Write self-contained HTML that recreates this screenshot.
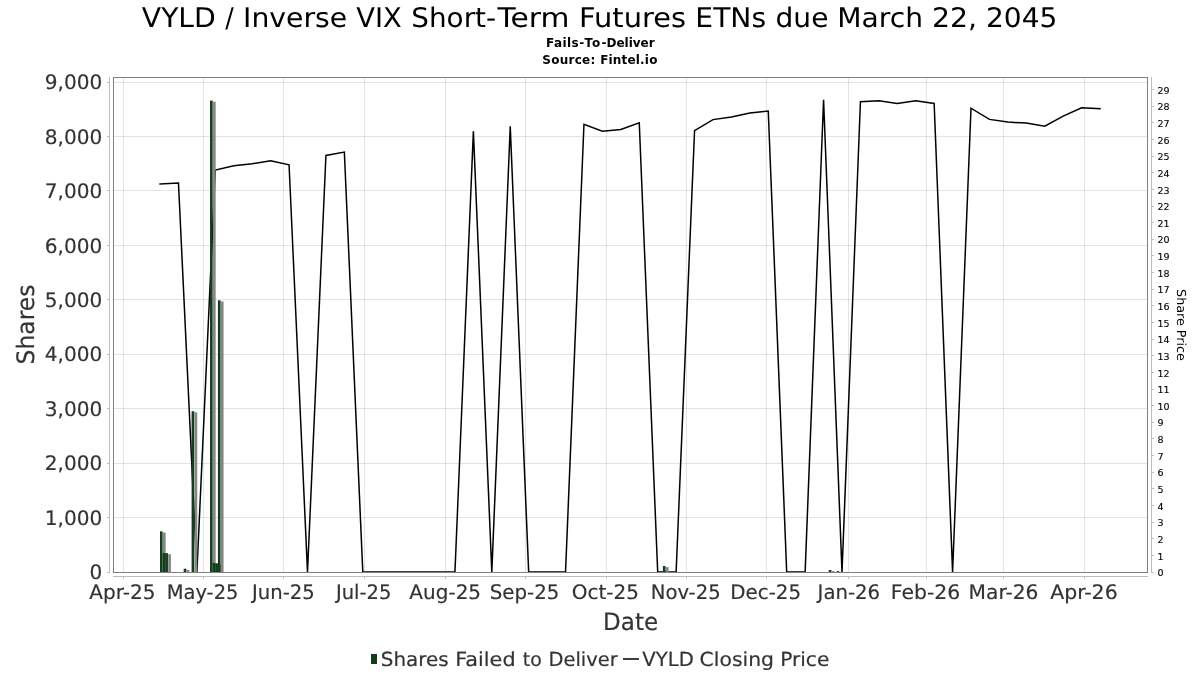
<!DOCTYPE html>
<html lang="en"><head><meta charset="utf-8">
<title>VYLD / Inverse VIX Short-Term Futures ETNs due March 22, 2045 - Fails-To-Deliver</title>
<style>
html,body{margin:0;padding:0;background:#fff;}
body{width:1200px;height:675px;overflow:hidden;}
svg{display:block;}
text{font-family:'DejaVu Sans','Liberation Sans',sans-serif;text-rendering:geometricPrecision;}
text.h{text-rendering:auto;stroke:#000;stroke-width:0.12px;}
text.hb{text-rendering:auto;}
text[fill="#333333"]{stroke:#333333;stroke-width:0.18px;}
</style></head><body>
<svg width="1200" height="675" viewBox="0 0 1200 675">
<rect x="0" y="0" width="1200" height="675" fill="#ffffff"/>
<defs><clipPath id="plot"><rect x="113" y="77" width="1034.5" height="495"/></clipPath>
</defs>
<g shape-rendering="crispEdges">
<rect x="123" y="78" width="1" height="494" fill="#000000" fill-opacity="0.105"/>
<rect x="203" y="78" width="1" height="494" fill="#000000" fill-opacity="0.105"/>
<rect x="283" y="78" width="1" height="494" fill="#000000" fill-opacity="0.105"/>
<rect x="364" y="78" width="1" height="494" fill="#000000" fill-opacity="0.105"/>
<rect x="445" y="78" width="1" height="494" fill="#000000" fill-opacity="0.105"/>
<rect x="525" y="78" width="1" height="494" fill="#000000" fill-opacity="0.105"/>
<rect x="606" y="78" width="1" height="494" fill="#000000" fill-opacity="0.105"/>
<rect x="686" y="78" width="1" height="494" fill="#000000" fill-opacity="0.105"/>
<rect x="766" y="78" width="1" height="494" fill="#000000" fill-opacity="0.105"/>
<rect x="848" y="78" width="1" height="494" fill="#000000" fill-opacity="0.105"/>
<rect x="926" y="78" width="1" height="494" fill="#000000" fill-opacity="0.105"/>
<rect x="1003" y="78" width="1" height="494" fill="#000000" fill-opacity="0.105"/>
<rect x="1084" y="78" width="1" height="494" fill="#000000" fill-opacity="0.105"/>
<rect x="114" y="517" width="1033" height="1" fill="#000000" fill-opacity="0.105"/>
<rect x="114" y="463" width="1033" height="1" fill="#000000" fill-opacity="0.105"/>
<rect x="114" y="408" width="1033" height="1" fill="#000000" fill-opacity="0.105"/>
<rect x="114" y="354" width="1033" height="1" fill="#000000" fill-opacity="0.105"/>
<rect x="114" y="299" width="1033" height="1" fill="#000000" fill-opacity="0.105"/>
<rect x="114" y="245" width="1033" height="1" fill="#000000" fill-opacity="0.105"/>
<rect x="114" y="190" width="1033" height="1" fill="#000000" fill-opacity="0.105"/>
<rect x="114" y="136" width="1033" height="1" fill="#000000" fill-opacity="0.105"/>
<rect x="114" y="82" width="1033" height="1" fill="#000000" fill-opacity="0.105"/>
</g>
<g clip-path="url(#plot)">
<path d="M160.05 183.90 L178.48 183.10 L196.91 572.00 L215.34 170.00 L233.77 165.70 L252.21 163.70 L270.64 160.80 L289.07 164.80 L307.50 572.00 L325.93 155.40 L344.36 152.10 L362.79 572.00 L381.22 572.00 L399.65 572.00 L418.08 572.00 L436.52 572.00 L454.95 572.00 L473.38 131.20 L491.81 572.00 L510.24 126.40 L528.67 572.00 L547.10 572.00 L565.53 572.00 L583.96 124.30 L602.39 131.20 L620.83 129.40 L639.26 122.80 L657.69 572.00 L676.12 572.00 L694.55 130.60 L712.98 119.60 L731.41 116.90 L749.84 113.10 L768.27 111.10 L786.70 572.00 L805.13 572.00 L823.57 99.70 L842.00 572.00 L860.43 101.70 L878.86 100.70 L897.29 103.50 L915.72 100.70 L934.15 103.50 L952.58 572.00 L971.01 108.20 L989.45 119.40 L1007.88 122.10 L1026.31 123.10 L1044.74 126.20 L1063.17 116.10 L1081.60 107.80 L1100.03 108.80" fill="none" stroke="#000" stroke-width="1.5" stroke-linejoin="miter" stroke-miterlimit="10" stroke-linecap="square"/>
<rect x="163.00" y="532.50" width="2.633" height="39.50" fill="#868686"/>
<rect x="165.63" y="554.20" width="2.633" height="17.80" fill="#868686"/>
<rect x="168.27" y="554.20" width="2.633" height="17.80" fill="#868686"/>
<rect x="186.70" y="569.80" width="2.633" height="2.20" fill="#868686"/>
<rect x="194.60" y="412.30" width="2.633" height="159.70" fill="#868686"/>
<rect x="213.03" y="101.70" width="2.633" height="470.30" fill="#868686"/>
<rect x="215.66" y="564.00" width="2.633" height="8.00" fill="#868686"/>
<rect x="218.29" y="564.40" width="2.633" height="7.60" fill="#868686"/>
<rect x="220.93" y="301.40" width="2.633" height="270.60" fill="#868686"/>
<rect x="665.90" y="567.10" width="2.633" height="4.90" fill="#868686"/>
<rect x="831.78" y="571.10" width="2.633" height="0.90" fill="#868686"/>
<rect x="839.68" y="572.20" width="2.633" height="-0.20" fill="#868686"/>
<rect x="160.00" y="531.40" width="2.633" height="40.60" fill="#133d1c"/>
<rect x="162.63" y="553.10" width="2.633" height="18.90" fill="#133d1c"/>
<rect x="165.27" y="553.10" width="2.633" height="18.90" fill="#133d1c"/>
<rect x="183.70" y="568.70" width="2.633" height="3.30" fill="#133d1c"/>
<rect x="191.60" y="411.20" width="2.633" height="160.80" fill="#133d1c"/>
<rect x="210.03" y="100.60" width="2.633" height="471.40" fill="#133d1c"/>
<rect x="212.66" y="562.90" width="2.633" height="9.10" fill="#133d1c"/>
<rect x="215.29" y="563.30" width="2.633" height="8.70" fill="#133d1c"/>
<rect x="217.93" y="300.30" width="2.633" height="271.70" fill="#133d1c"/>
<rect x="662.90" y="566.00" width="2.633" height="6.00" fill="#133d1c"/>
<rect x="828.78" y="570.00" width="2.633" height="2.00" fill="#133d1c"/>
<rect x="836.68" y="571.10" width="2.633" height="0.90" fill="#133d1c"/>
</g>
<g shape-rendering="crispEdges">
<rect x="109" y="77" width="1" height="496" fill="#bdbdbd"/>
<rect x="107" y="572" width="2" height="1" fill="#bdbdbd"/>
<rect x="107" y="517" width="2" height="1" fill="#bdbdbd"/>
<rect x="107" y="463" width="2" height="1" fill="#bdbdbd"/>
<rect x="107" y="408" width="2" height="1" fill="#bdbdbd"/>
<rect x="107" y="354" width="2" height="1" fill="#bdbdbd"/>
<rect x="107" y="299" width="2" height="1" fill="#bdbdbd"/>
<rect x="107" y="245" width="2" height="1" fill="#bdbdbd"/>
<rect x="107" y="190" width="2" height="1" fill="#bdbdbd"/>
<rect x="107" y="136" width="2" height="1" fill="#bdbdbd"/>
<rect x="107" y="82" width="2" height="1" fill="#bdbdbd"/>
<rect x="1151" y="77" width="1" height="496" fill="#bdbdbd"/>
<rect x="1152" y="572" width="2" height="1" fill="#bdbdbd"/>
<rect x="1152" y="555" width="2" height="1" fill="#bdbdbd"/>
<rect x="1152" y="538" width="2" height="1" fill="#bdbdbd"/>
<rect x="1152" y="522" width="2" height="1" fill="#bdbdbd"/>
<rect x="1152" y="505" width="2" height="1" fill="#bdbdbd"/>
<rect x="1152" y="488" width="2" height="1" fill="#bdbdbd"/>
<rect x="1152" y="472" width="2" height="1" fill="#bdbdbd"/>
<rect x="1152" y="455" width="2" height="1" fill="#bdbdbd"/>
<rect x="1152" y="438" width="2" height="1" fill="#bdbdbd"/>
<rect x="1152" y="422" width="2" height="1" fill="#bdbdbd"/>
<rect x="1152" y="405" width="2" height="1" fill="#bdbdbd"/>
<rect x="1152" y="389" width="2" height="1" fill="#bdbdbd"/>
<rect x="1152" y="372" width="2" height="1" fill="#bdbdbd"/>
<rect x="1152" y="355" width="2" height="1" fill="#bdbdbd"/>
<rect x="1152" y="339" width="2" height="1" fill="#bdbdbd"/>
<rect x="1152" y="322" width="2" height="1" fill="#bdbdbd"/>
<rect x="1152" y="305" width="2" height="1" fill="#bdbdbd"/>
<rect x="1152" y="289" width="2" height="1" fill="#bdbdbd"/>
<rect x="1152" y="272" width="2" height="1" fill="#bdbdbd"/>
<rect x="1152" y="255" width="2" height="1" fill="#bdbdbd"/>
<rect x="1152" y="239" width="2" height="1" fill="#bdbdbd"/>
<rect x="1152" y="222" width="2" height="1" fill="#bdbdbd"/>
<rect x="1152" y="206" width="2" height="1" fill="#bdbdbd"/>
<rect x="1152" y="189" width="2" height="1" fill="#bdbdbd"/>
<rect x="1152" y="172" width="2" height="1" fill="#bdbdbd"/>
<rect x="1152" y="156" width="2" height="1" fill="#bdbdbd"/>
<rect x="1152" y="139" width="2" height="1" fill="#bdbdbd"/>
<rect x="1152" y="122" width="2" height="1" fill="#bdbdbd"/>
<rect x="1152" y="106" width="2" height="1" fill="#bdbdbd"/>
<rect x="1152" y="89" width="2" height="1" fill="#bdbdbd"/>
<rect x="113" y="576" width="1035" height="1" fill="#bdbdbd"/>
<rect x="123" y="577" width="1" height="2" fill="#bdbdbd"/>
<rect x="203" y="577" width="1" height="2" fill="#bdbdbd"/>
<rect x="283" y="577" width="1" height="2" fill="#bdbdbd"/>
<rect x="364" y="577" width="1" height="2" fill="#bdbdbd"/>
<rect x="445" y="577" width="1" height="2" fill="#bdbdbd"/>
<rect x="525" y="577" width="1" height="2" fill="#bdbdbd"/>
<rect x="606" y="577" width="1" height="2" fill="#bdbdbd"/>
<rect x="686" y="577" width="1" height="2" fill="#bdbdbd"/>
<rect x="766" y="577" width="1" height="2" fill="#bdbdbd"/>
<rect x="848" y="577" width="1" height="2" fill="#bdbdbd"/>
<rect x="926" y="577" width="1" height="2" fill="#bdbdbd"/>
<rect x="1003" y="577" width="1" height="2" fill="#bdbdbd"/>
<rect x="1084" y="577" width="1" height="2" fill="#bdbdbd"/>
<rect x="113" y="77" width="1035" height="1" fill="#808080"/>
<rect x="113" y="572" width="1035" height="1" fill="#808080"/>
<rect x="113" y="77" width="1" height="496" fill="#808080"/>
<rect x="1147" y="77" width="1" height="496" fill="#808080"/>
</g>
<text y="27.00" font-size="27" fill="#000"><tspan x="141.84" textLength="73.98" lengthAdjust="spacingAndGlyphs">VYLD</tspan> <tspan x="225.30" textLength="8.50" lengthAdjust="spacingAndGlyphs">/</tspan> <tspan x="243.05" textLength="104.17" lengthAdjust="spacingAndGlyphs">Inverse</tspan> <tspan x="356.25" textLength="45.40" lengthAdjust="spacingAndGlyphs">VIX</tspan> <tspan x="411.30" textLength="84.77" lengthAdjust="spacingAndGlyphs">Short-</tspan><tspan x="497.44" textLength="72.02" lengthAdjust="spacingAndGlyphs">Term</tspan> <tspan x="578.99" textLength="107.12" lengthAdjust="spacingAndGlyphs">Futures</tspan> <tspan x="695.36" textLength="70.72" lengthAdjust="spacingAndGlyphs">ETNs</tspan> <tspan x="775.54" textLength="52.92" lengthAdjust="spacingAndGlyphs">due</tspan> <tspan x="837.37" textLength="85.74" lengthAdjust="spacingAndGlyphs">March</tspan> <tspan x="932.00" textLength="45.03" lengthAdjust="spacingAndGlyphs">22,</tspan> <tspan x="986.02" textLength="71.31" lengthAdjust="spacingAndGlyphs">2045</tspan></text>
<text y="47.00" font-size="12" font-weight="bold" fill="#000" class="hb"><tspan x="545.97" letter-spacing="0.455">Fails-</tspan><tspan x="584.40" letter-spacing="1.088">To-</tspan><tspan x="606.47" letter-spacing="0.000">Deliver</tspan></text>
<text y="64.00" font-size="12" font-weight="bold" fill="#000" class="hb"><tspan x="542.22" letter-spacing="0.279">Source:</tspan> <tspan x="600.17" letter-spacing="0.184">Fintel.io</tspan></text>
<text y="578.90" font-size="20" fill="#333333"><tspan x="89.47" textLength="12.80" lengthAdjust="spacingAndGlyphs">0</tspan></text>
<text y="524.90" font-size="20" fill="#333333"><tspan x="44.74" textLength="57.55" lengthAdjust="spacingAndGlyphs">1,000</tspan></text>
<text y="469.90" font-size="20" fill="#333333"><tspan x="44.74" textLength="57.55" lengthAdjust="spacingAndGlyphs">2,000</tspan></text>
<text y="415.90" font-size="20" fill="#333333"><tspan x="44.74" textLength="57.55" lengthAdjust="spacingAndGlyphs">3,000</tspan></text>
<text y="360.90" font-size="20" fill="#333333"><tspan x="44.74" textLength="57.55" lengthAdjust="spacingAndGlyphs">4,000</tspan></text>
<text y="306.90" font-size="20" fill="#333333"><tspan x="44.74" textLength="57.55" lengthAdjust="spacingAndGlyphs">5,000</tspan></text>
<text y="252.90" font-size="20" fill="#333333"><tspan x="44.74" textLength="57.55" lengthAdjust="spacingAndGlyphs">6,000</tspan></text>
<text y="197.90" font-size="20" fill="#333333"><tspan x="44.74" textLength="57.55" lengthAdjust="spacingAndGlyphs">7,000</tspan></text>
<text y="143.90" font-size="20" fill="#333333"><tspan x="44.74" textLength="57.55" lengthAdjust="spacingAndGlyphs">8,000</tspan></text>
<text y="88.90" font-size="20" fill="#333333"><tspan x="44.74" textLength="57.55" lengthAdjust="spacingAndGlyphs">9,000</tspan></text>
<text y="599.00" font-size="20" fill="#333333"><tspan x="89.37" textLength="66.28" lengthAdjust="spacingAndGlyphs">Apr-25</tspan></text>
<text y="599.00" font-size="20" fill="#333333"><tspan x="166.65" textLength="71.80" lengthAdjust="spacingAndGlyphs">May-25</tspan></text>
<text y="599.00" font-size="20" fill="#333333"><tspan x="252.08" textLength="62.68" lengthAdjust="spacingAndGlyphs">Jun-25</tspan></text>
<text y="599.00" font-size="20" fill="#333333"><tspan x="335.98" textLength="55.48" lengthAdjust="spacingAndGlyphs">Jul-25</tspan></text>
<text y="599.00" font-size="20" fill="#333333"><tspan x="409.37" textLength="71.74" lengthAdjust="spacingAndGlyphs">Aug-25</tspan></text>
<text y="599.00" font-size="20" fill="#333333"><tspan x="489.74" textLength="69.69" lengthAdjust="spacingAndGlyphs">Sep-25</tspan></text>
<text y="599.00" font-size="20" fill="#333333"><tspan x="571.67" textLength="67.28" lengthAdjust="spacingAndGlyphs">Oct-25</tspan></text>
<text y="599.00" font-size="20" fill="#333333"><tspan x="650.84" textLength="69.83" lengthAdjust="spacingAndGlyphs">Nov-25</tspan></text>
<text y="599.00" font-size="20" fill="#333333"><tspan x="730.32" textLength="70.82" lengthAdjust="spacingAndGlyphs">Dec-25</tspan></text>
<text y="599.00" font-size="20" fill="#333333"><tspan x="817.58" textLength="62.55" lengthAdjust="spacingAndGlyphs">Jan-26</tspan></text>
<text y="599.00" font-size="20" fill="#333333"><tspan x="890.76" textLength="69.50" lengthAdjust="spacingAndGlyphs">Feb-26</tspan></text>
<text y="599.00" font-size="20" fill="#333333"><tspan x="968.58" textLength="69.89" lengthAdjust="spacingAndGlyphs">Mar-26</tspan></text>
<text y="599.00" font-size="20" fill="#333333"><tspan x="1050.17" textLength="67.51" lengthAdjust="spacingAndGlyphs">Apr-26</tspan></text>
<text x="1157.4" y="576" font-size="9.5" class="h" text-anchor="start" fill="#000">0</text>
<text x="1157.4" y="560" font-size="9.5" class="h" text-anchor="start" fill="#000">1</text>
<text x="1157.4" y="543" font-size="9.5" class="h" text-anchor="start" fill="#000">2</text>
<text x="1157.4" y="526" font-size="9.5" class="h" text-anchor="start" fill="#000">3</text>
<text x="1157.4" y="510" font-size="9.5" class="h" text-anchor="start" fill="#000">4</text>
<text x="1157.4" y="493" font-size="9.5" class="h" text-anchor="start" fill="#000">5</text>
<text x="1157.4" y="476" font-size="9.5" class="h" text-anchor="start" fill="#000">6</text>
<text x="1157.4" y="460" font-size="9.5" class="h" text-anchor="start" fill="#000">7</text>
<text x="1157.4" y="443" font-size="9.5" class="h" text-anchor="start" fill="#000">8</text>
<text x="1157.4" y="426" font-size="9.5" class="h" text-anchor="start" fill="#000">9</text>
<text x="1157.4" y="410" font-size="9.5" class="h" text-anchor="start" fill="#000">10</text>
<text x="1157.4" y="393" font-size="9.5" class="h" text-anchor="start" fill="#000">11</text>
<text x="1157.4" y="377" font-size="9.5" class="h" text-anchor="start" fill="#000">12</text>
<text x="1157.4" y="360" font-size="9.5" class="h" text-anchor="start" fill="#000">13</text>
<text x="1157.4" y="343" font-size="9.5" class="h" text-anchor="start" fill="#000">14</text>
<text x="1157.4" y="327" font-size="9.5" class="h" text-anchor="start" fill="#000">15</text>
<text x="1157.4" y="310" font-size="9.5" class="h" text-anchor="start" fill="#000">16</text>
<text x="1157.4" y="293" font-size="9.5" class="h" text-anchor="start" fill="#000">17</text>
<text x="1157.4" y="277" font-size="9.5" class="h" text-anchor="start" fill="#000">18</text>
<text x="1157.4" y="260" font-size="9.5" class="h" text-anchor="start" fill="#000">19</text>
<text x="1157.4" y="243" font-size="9.5" class="h" text-anchor="start" fill="#000">20</text>
<text x="1157.4" y="227" font-size="9.5" class="h" text-anchor="start" fill="#000">21</text>
<text x="1157.4" y="210" font-size="9.5" class="h" text-anchor="start" fill="#000">22</text>
<text x="1157.4" y="194" font-size="9.5" class="h" text-anchor="start" fill="#000">23</text>
<text x="1157.4" y="177" font-size="9.5" class="h" text-anchor="start" fill="#000">24</text>
<text x="1157.4" y="160" font-size="9.5" class="h" text-anchor="start" fill="#000">25</text>
<text x="1157.4" y="144" font-size="9.5" class="h" text-anchor="start" fill="#000">26</text>
<text x="1157.4" y="127" font-size="9.5" class="h" text-anchor="start" fill="#000">27</text>
<text x="1157.4" y="110" font-size="9.5" class="h" text-anchor="start" fill="#000">28</text>
<text x="1157.4" y="94" font-size="9.5" class="h" text-anchor="start" fill="#000">29</text>
<text transform="translate(33.90 324.50) rotate(-90) scale(0.9760 1.0000)" font-size="24" text-anchor="middle" fill="#333333">Shares</text>
<text y="630.00" font-size="24" fill="#333333"><tspan x="603.02" textLength="55.08" lengthAdjust="spacingAndGlyphs">Date</tspan></text>
<text transform="translate(1176.70 325.00) rotate(90) scale(1.0280 1.0000)" font-size="12.4" text-anchor="middle" fill="#000">Share Price</text>
<rect x="371" y="654" width="6" height="10" fill="#133c1c"/>
<text y="666.00" font-size="19.4" fill="#333333"><tspan x="380.82" textLength="67.85" lengthAdjust="spacingAndGlyphs">Shares</tspan> <tspan x="455.29" textLength="60.32" lengthAdjust="spacingAndGlyphs">Failed</tspan> <tspan x="522.81" textLength="18.95" lengthAdjust="spacingAndGlyphs">to</tspan> <tspan x="548.42" textLength="69.30" lengthAdjust="spacingAndGlyphs">Deliver</tspan></text>
<rect x="623" y="658.25" width="16" height="1.5" fill="#000"/>
<text y="666.00" font-size="19.4" fill="#333333"><tspan x="642.37" textLength="51.43" lengthAdjust="spacingAndGlyphs">VYLD</tspan> <tspan x="699.62" textLength="74.44" lengthAdjust="spacingAndGlyphs">Closing</tspan> <tspan x="780.15" textLength="49.15" lengthAdjust="spacingAndGlyphs">Price</tspan></text>
</svg></body></html>
